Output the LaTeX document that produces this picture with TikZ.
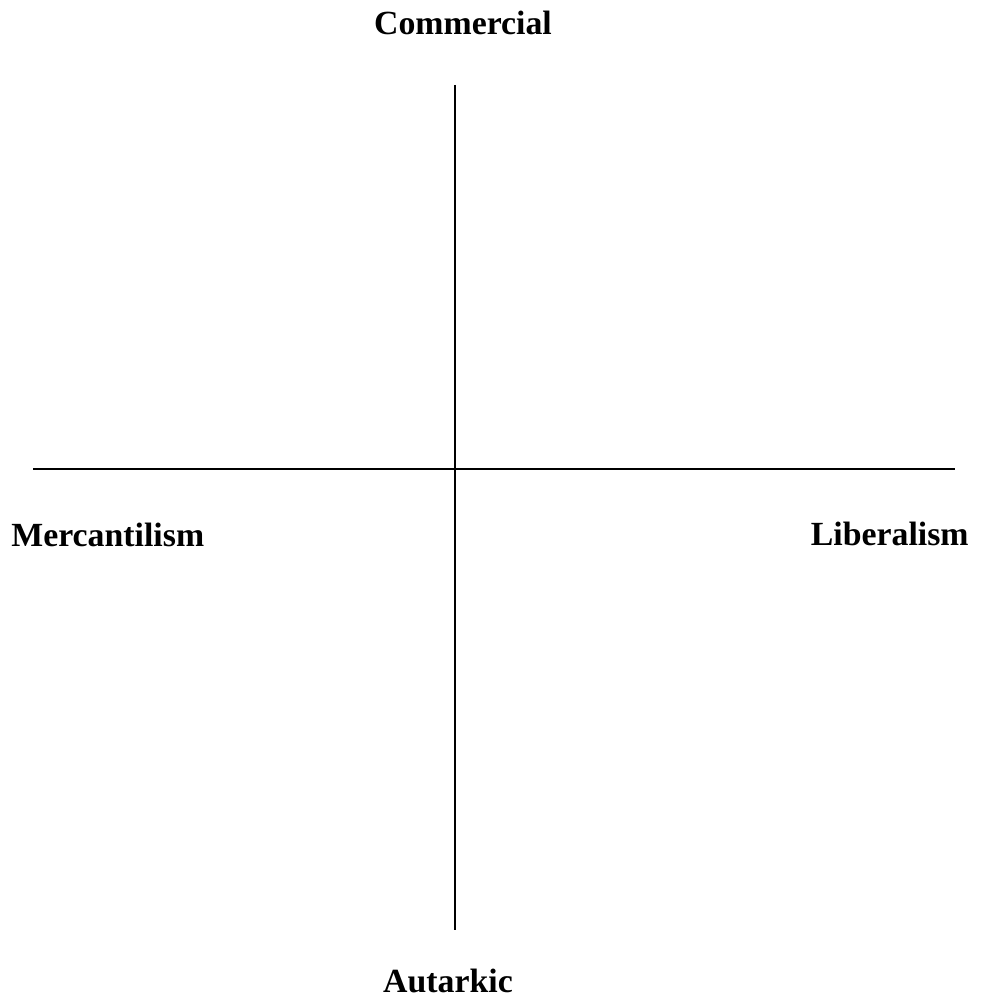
\documentclass[tikz,border=0pt]{standalone}
\usepackage{fontspec}
\setmainfont{Liberation Serif}
\begin{document}
\begin{tikzpicture}[x=0.5pt,y=-0.5pt,
  axis/.style={line width=1.1pt},
  lbl/.style={font=\fontsize{16.9}{20}\selectfont\bfseries, inner sep=0pt}]
\useasboundingbox (0,0) rectangle (980,1000);
\node[lbl, anchor=base] (com) at (463,35) {Commercial};
\node[lbl, anchor=base west] (mer) at (11,546) {Mercantilism};
\node[lbl, anchor=base east] (lib) at (969,545) {Liberalism};
\node[lbl, anchor=base] (aut) at (448,992) {Autarkic};
\coordinate (vt) at (455,85);
\coordinate (vb) at (455,930);
\coordinate (hl) at (33,469);
\coordinate (hr) at (955,469);
\draw[axis] (vt) -- (vb);
\draw[axis] (hl) -- (hr);
\end{tikzpicture}
\end{document}
